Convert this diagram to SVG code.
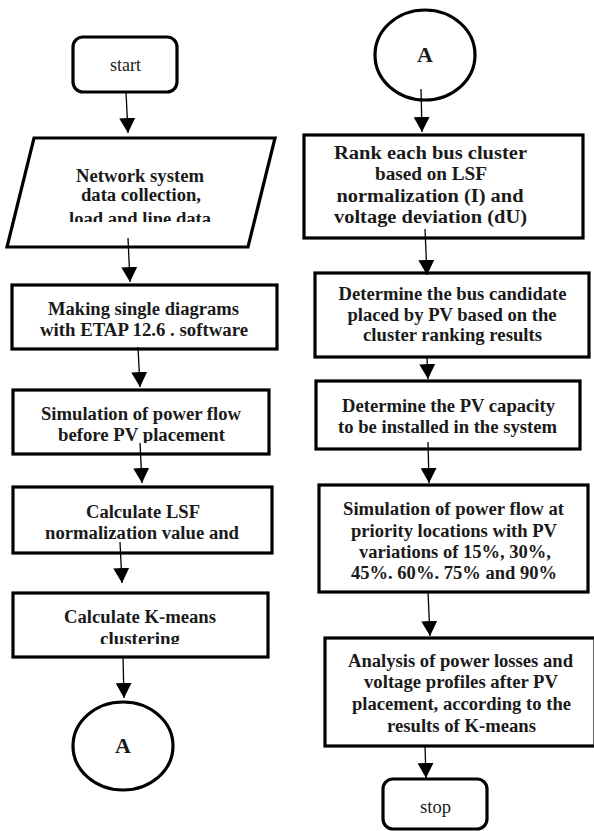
<svg xmlns="http://www.w3.org/2000/svg" width="594" height="831" viewBox="0 0 594 831">
<style>
.shape{fill:#fff;stroke:#000;stroke-width:3.2}
.b{font-family:"Liberation Serif","Times New Roman",serif;font-weight:bold;font-size:18.5px;fill:#1a1a1a;text-anchor:middle}
.a{font-family:"Liberation Serif","Times New Roman",serif;font-weight:bold;font-size:22px;fill:#1a1a1a;text-anchor:middle}
.r{font-family:"Liberation Serif","Times New Roman",serif;font-size:18px;fill:#1a1a1a;text-anchor:middle}
.c{stroke:#000;stroke-width:1.3;fill:none;marker-end:url(#ah)}
</style>
<defs>
<marker id="ah" markerUnits="userSpaceOnUse" markerWidth="15" markerHeight="16" refX="15" refY="8" orient="auto" viewBox="0 0 15 16">
<path d="M0,0 L15,8 L0,16 z" fill="#000"/>
</marker>
<clipPath id="cp1"><rect x="0" y="130" width="290" height="92"/></clipPath>
<clipPath id="cp3"><rect x="0" y="380" width="290" height="63"/></clipPath>
<clipPath id="cp4"><rect x="0" y="480" width="290" height="60"/></clipPath>
<clipPath id="cp5"><rect x="0" y="590" width="290" height="54"/></clipPath>
</defs>
<g id="start">
<rect class="shape" x="73" y="37" width="104" height="55" rx="10"/>
<text class="r" x="125.5" y="71" textLength="31" lengthAdjust="spacingAndGlyphs">start</text>
</g>
<g id="network">
<polygon class="shape" points="34,138 275,138 248,247 7,247"/>
<g clip-path="url(#cp1)">
<text class="b" x="140" y="182" textLength="128" lengthAdjust="spacingAndGlyphs">Network system</text>
<text class="b" x="141" y="201" textLength="120" lengthAdjust="spacingAndGlyphs">data collection,</text>
<text class="b" x="140" y="225" textLength="142" lengthAdjust="spacingAndGlyphs">load and line data</text>
</g>
</g>
<g id="making">
<rect class="shape" x="12" y="285" width="265" height="64"/>
<text class="b" x="143.5" y="315" textLength="191" lengthAdjust="spacingAndGlyphs">Making single diagrams</text>
<text class="b" x="144" y="336" textLength="208" lengthAdjust="spacingAndGlyphs">with ETAP 12.6 . software</text>
</g>
<g id="simulation1">
<rect class="shape" x="13" y="390" width="256" height="64"/>
<g clip-path="url(#cp3)">
<text class="b" x="141" y="420" textLength="200" lengthAdjust="spacingAndGlyphs">Simulation of power flow</text>
<text class="b" x="141.5" y="441" textLength="167" lengthAdjust="spacingAndGlyphs">before PV placement</text>
</g>
</g>
<g id="lsf">
<rect class="shape" x="13" y="487" width="259" height="66"/>
<g clip-path="url(#cp4)">
<text class="b" x="143" y="518" textLength="114" lengthAdjust="spacingAndGlyphs">Calculate LSF</text>
<text class="b" x="142" y="539" textLength="194" lengthAdjust="spacingAndGlyphs">normalization value and</text>
</g>
</g>
<g id="kmeans">
<rect class="shape" x="13" y="593" width="255" height="64"/>
<g clip-path="url(#cp5)">
<text class="b" x="140" y="623" textLength="152" lengthAdjust="spacingAndGlyphs">Calculate K-means</text>
<text class="b" x="140" y="645" textLength="80" lengthAdjust="spacingAndGlyphs">clustering</text>
</g>
</g>
<g id="connA1">
<ellipse class="shape" cx="123" cy="746" rx="50" ry="44"/>
<text class="a" x="123" y="753">A</text>
</g>
<g id="connA2">
<ellipse class="shape" cx="425" cy="55" rx="50" ry="45"/>
<text class="a" x="425" y="62">A</text>
</g>
<g id="rank">
<rect class="shape" x="304" y="135" width="279" height="103"/>
<text class="b" x="430.5" y="159" textLength="193" lengthAdjust="spacingAndGlyphs">Rank each bus cluster</text>
<text class="b" x="431" y="180" textLength="112" lengthAdjust="spacingAndGlyphs">based on LSF</text>
<text class="b" x="430" y="202" textLength="187" lengthAdjust="spacingAndGlyphs">normalization (I) and</text>
<text class="b" x="430.5" y="223" textLength="193" lengthAdjust="spacingAndGlyphs">voltage deviation (dU)</text>
</g>
<g id="candidate">
<rect class="shape" x="315" y="273" width="274" height="84"/>
<text class="b" x="452.5" y="300" textLength="228" lengthAdjust="spacingAndGlyphs">Determine the bus candidate</text>
<text class="b" x="452" y="321" textLength="209" lengthAdjust="spacingAndGlyphs">placed by PV based on the</text>
<text class="b" x="452.5" y="341" textLength="179" lengthAdjust="spacingAndGlyphs">cluster ranking results</text>
</g>
<g id="capacity">
<rect class="shape" x="316" y="381" width="264" height="68"/>
<text class="b" x="448.5" y="412" textLength="213" lengthAdjust="spacingAndGlyphs">Determine the PV capacity</text>
<text class="b" x="447.5" y="433" textLength="219" lengthAdjust="spacingAndGlyphs">to be installed in the system</text>
</g>
<g id="simulation2">
<rect class="shape" x="319" y="485" width="269" height="107"/>
<text class="b" x="453.5" y="515" textLength="221" lengthAdjust="spacingAndGlyphs">Simulation of power flow at</text>
<text class="b" x="454" y="537" textLength="206" lengthAdjust="spacingAndGlyphs">priority locations with PV</text>
<text class="b" x="455" y="558" textLength="192" lengthAdjust="spacingAndGlyphs">variations of 15%, 30%,</text>
<text class="b" x="454" y="579" textLength="206" lengthAdjust="spacingAndGlyphs">45%. 60%. 75% and 90%</text>
</g>
<g id="analysis">
<rect class="shape" x="325" y="638" width="270" height="108"/>
<text class="b" x="460.5" y="667" textLength="225" lengthAdjust="spacingAndGlyphs">Analysis of power losses and</text>
<text class="b" x="461" y="688" textLength="194" lengthAdjust="spacingAndGlyphs">voltage profiles after PV</text>
<text class="b" x="461.5" y="710" textLength="219" lengthAdjust="spacingAndGlyphs">placement, according to the</text>
<text class="b" x="461.5" y="732" textLength="149" lengthAdjust="spacingAndGlyphs">results of K-means</text>
</g>
<g id="stop">
<rect class="shape" x="383" y="779" width="104" height="50" rx="10"/>
<text class="r" x="435.5" y="813" textLength="31" lengthAdjust="spacingAndGlyphs">stop</text>
</g>
<g id="connectors">
<line class="c" x1="126" y1="92" x2="128" y2="133"/>
<line class="c" x1="128" y1="238" x2="130" y2="282"/>
<line class="c" x1="138" y1="347" x2="140" y2="387"/>
<line class="c" x1="140" y1="443" x2="142" y2="483"/>
<line class="c" x1="120" y1="542" x2="122" y2="583"/>
<line class="c" x1="123" y1="657" x2="124" y2="698"/>
<line class="c" x1="421" y1="89" x2="422" y2="132"/>
<line class="c" x1="425" y1="229" x2="427" y2="275"/>
<line class="c" x1="427" y1="357" x2="428" y2="379"/>
<line class="c" x1="428" y1="442" x2="429" y2="483"/>
<line class="c" x1="428" y1="592" x2="430" y2="636"/>
<line class="c" x1="425" y1="746" x2="426" y2="778"/>
</g>
</svg>
